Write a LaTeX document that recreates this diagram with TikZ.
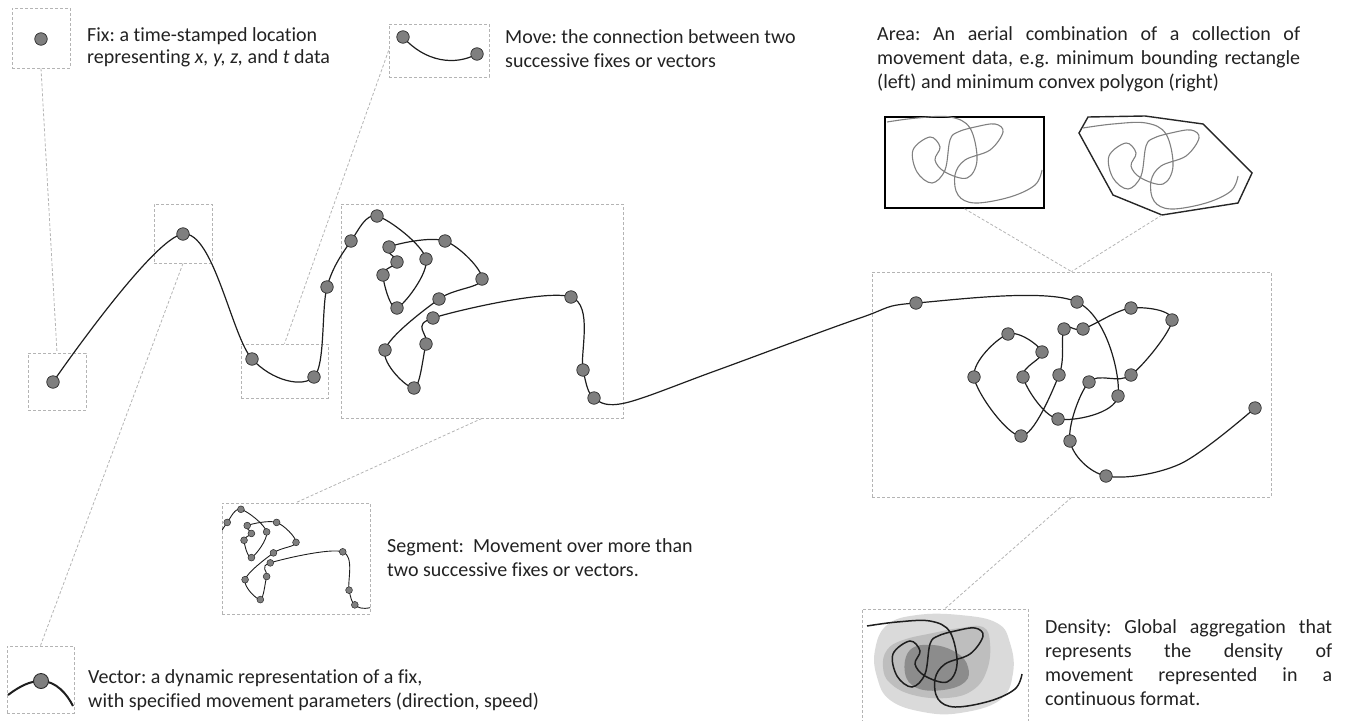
\documentclass[tikz,border=0pt]{standalone}
\usepackage{fontspec}
\setmainfont{Carlito}[Ligatures={NoCommon}]
\frenchspacing
\definecolor{boxgray}{HTML}{B4B4B4}
\definecolor{dotfill}{HTML}{7F7F7F}
\definecolor{dotdraw}{HTML}{2B2B2B}
\definecolor{trajcol}{HTML}{1E1E1E}
\definecolor{txtcol}{HTML}{222222}
\definecolor{scribcol}{HTML}{808080}
\definecolor{dlight}{HTML}{DADADA}
\definecolor{dmid}{HTML}{BEBEBE}
\definecolor{ddark}{HTML}{8C8C8C}
\tikzset{
  dbox/.style={draw=boxgray, dash pattern=on 3pt off 2pt, line width=0.8pt, inner sep=0pt, rectangle},
  dlink/.style={draw=boxgray, dash pattern=on 3pt off 2pt, line width=0.8pt},
  fixdot/.style={circle, fill=dotfill, draw=dotdraw, line width=0.7pt, minimum size=12.5pt, inner sep=0pt},
  traj/.style={draw=trajcol, line width=1.2pt},
  txt/.style={font=\fontsize{20}{24}\selectfont, text=txtcol, inner sep=0pt, align=left, anchor=base west},
}
\newcommand\myscribble[2]{%
  \draw[#1, shift={#2}] plot[smooth, tension=0.6] coordinates {(0,0) (30,-4) (63,-5) (83,6) (90,38) (80,56) (58,50) (48,38) (53,25) (43,15) (26,28) (30,50) (45,61) (58,48) (63,18) (71,10) (88,5) (108,2) (116,10) (103,28) (78,38) (68,53) (71,73) (88,81) (123,75) (148,63) (155,48)};}
\begin{document}
\begin{tikzpicture}[x=1pt, y=-1pt]
\useasboundingbox (0,0) rectangle (1351,720);

% ---------- dashed boxes ----------
\node[dbox, minimum width=58pt, minimum height=60pt] (fixinset) at (41,38) {};
\node[dbox, minimum width=58pt, minimum height=57pt] (fixbox) at (57,381.5) {};
\node[dbox, minimum width=58pt, minimum height=59pt] (vecbox) at (183,233.5) {};
\node[dbox, minimum width=67pt, minimum height=67pt] (vecinset) at (40.5,679.5) {};
\node[dbox, minimum width=87pt, minimum height=54pt] (movebox) at (284.5,371) {};
\node[dbox, minimum width=100pt, minimum height=53pt] (moveinset) at (439,50.5) {};
\node[dbox, minimum width=282pt, minimum height=214pt] (segbox) at (482,311) {};
\node[dbox, minimum width=148pt, minimum height=111pt] (seginset) at (296,558.5) {};
\node[dbox, minimum width=399pt, minimum height=225pt] (areabox) at (1071.5,384.5) {};
\node[dbox, minimum width=166pt, minimum height=122pt] (densinset) at (945,670) {};
\node[draw=black, line width=1.5pt, inner sep=0pt, minimum width=159pt, minimum height=91pt] (rectinset) at (964.5,162.5) {};
\draw[black!85, line width=1.4pt] (1088,117) -- (1145,116) -- (1203,124) -- (1252,173) -- (1238,203) -- (1162,215) coordinate (polybot) -- (1113,195) -- (1079,133) -- cycle;

% ---------- dashed links ----------
\draw[dlink] (fixinset.south) -- (fixbox.north);
\draw[dlink] (vecbox.south) -- (vecinset.north);
\draw[dlink] (moveinset.west) -- (movebox.north);
\draw[dlink] (segbox.south) -- (seginset.north);
\draw[dlink] (rectinset.south) -- (areabox.north);
\draw[dlink] (polybot) -- (areabox.north);
\draw[dlink] (areabox.south) -- (densinset.north);

% ---------- main trajectory ----------
\coordinate (t1) at (53,382);
\coordinate (t2) at (183,234);
\coordinate (t3) at (252,359);
\coordinate (t4) at (314,377);
\coordinate (t5) at (327,287);
\coordinate (t6) at (351,241);
\coordinate (t7) at (377,216);
\coordinate (t8) at (426,259);
\coordinate (t9) at (397,308);
\coordinate (t10) at (383,275);
\coordinate (t11) at (397,262);
\coordinate (t12) at (389,247);
\coordinate (t13) at (445,241);
\coordinate (t14) at (482,279);
\coordinate (t15) at (439,299);
\coordinate (t16) at (385,350);
\coordinate (t17) at (414,388);
\coordinate (t18) at (426,344);
\coordinate (t19) at (433,318);
\coordinate (t20) at (571,297);
\coordinate (t21) at (583,370);
\coordinate (t22) at (594,398);
\coordinate (h1) at (625,403);
\coordinate (h2) at (715,371);
\coordinate (h3) at (860,318);
\coordinate (t23) at (916,303);
\coordinate (t24) at (1077,302);
\coordinate (t25) at (1118,396);
\coordinate (t26) at (1058,419);
\coordinate (t27) at (1023,377);
\coordinate (t28) at (1042,352);
\coordinate (t29) at (1008,334);
\coordinate (t30) at (974,377);
\coordinate (t31) at (1021,436);
\coordinate (t32) at (1059,375);
\coordinate (t33) at (1064,329);
\coordinate (t34) at (1083,329);
\coordinate (t35) at (1131,308);
\coordinate (t36) at (1172,320);
\coordinate (t37) at (1131,375);
\coordinate (t38) at (1089,382);
\coordinate (t39) at (1070,441);
\coordinate (t40) at (1106,476);
\coordinate (h4) at (1180,464);
\coordinate (t41) at (1255,408);
\draw[traj] plot[smooth, tension=0.55] coordinates {(t1) (t2) (t3) (t4) (t5) (t6) (t7) (t8) (t9) (t10) (t11) (t12) (t13) (t14) (t15) (t16) (t17) (t18) (t19) (t20) (t21) (t22) (h1) (h2) (h3) (t23) (t24) (t25) (t26) (t27) (t28) (t29) (t30) (t31) (t32) (t33) (t34) (t35) (t36) (t37) (t38) (t39) (t40) (h4) (t41)};
\foreach \i in {1,...,41} \node[fixdot] (n\i) at (t\i) {};

% ---------- fix inset ----------
\node[fixdot] (fixdotA) at (41,39) {};

% ---------- move inset ----------
\coordinate (m1) at (403,37);
\coordinate (m2) at (477,54);
\draw[traj] (m1) .. controls (425,62) and (455,66) .. (m2);
\node[fixdot] (mdot1) at (m1) {};
\node[fixdot] (mdot2) at (m2) {};

% ---------- vector inset ----------
\coordinate (v1) at (8,695);
\coordinate (vc) at (41,681);
\coordinate (v2) at (73,706);
\draw[trajcol, line width=2pt] (v1) .. controls (20,686) and (30,681) .. (vc) .. controls (56,681) and (67,694) .. (v2);
\node[fixdot, minimum size=15pt, line width=0.9pt] (vdot) at (vc) {};

% ---------- segment inset ----------
\begin{scope}[shift={(222,503)}, scale=0.525, shift={(-341,-204)}]
  \clip (341,204) rectangle (623,418);
  \draw[trajcol, line width=0.9pt] plot[smooth, tension=0.55] coordinates {(183,234) (252,359) (314,377) (327,287) (351,241) (377,216) (426,259) (397,308) (383,275) (397,262) (389,247) (445,241) (482,279) (439,299) (385,350) (414,388) (426,344) (433,318) (571,297) (583,370) (594,398) (625,403) (715,371) (860,318)};
  \foreach \x/\y in {351/241, 377/216, 426/259, 397/308, 383/275, 397/262, 389/247, 445/241, 482/279, 439/299, 385/350, 414/388, 426/344, 433/318, 571/297, 583/370, 594/398}
    \filldraw[fill=dotfill, draw=dotdraw, line width=0.5pt] (\x,\y) circle[radius=6.5];
\end{scope}

% ---------- area insets ----------
\myscribble{scribcol, line width=1.1pt}{(887,122)}
\myscribble{scribcol, line width=1.1pt}{(1083,128)}

% ---------- density inset ----------
\fill[dlight] plot[smooth cycle, tension=0.7] coordinates {(887,625) (917,615) (960,615) (997,623) (1010,643) (1013,673) (1000,700) (960,713) (923,712) (890,700) (877,677) (875,650)};
\fill[dmid] plot[smooth cycle, tension=0.7] coordinates {(887,650) (903,640) (933,633) (960,628) (983,627) (990,643) (987,670) (973,690) (947,698) (913,695) (890,683) (883,667)};
\fill[ddark] plot[smooth cycle, tension=0.7] coordinates {(910,650) (933,645) (957,653) (968,667) (965,682) (943,690) (917,688) (905,673)};
\myscribble{trajcol, line width=1.5pt}{(867,626)}

% ---------- texts (anchor = baseline of the last line) ----------
\node[txt, font=\fontsize{20}{22}\selectfont] (fixtxt) at (87,63) {Fix: a time-stamped location\\representing \textit{x, y, z,} and \textit{t} data};
\node[txt] (movetxt) at (505,67) {Move: the connection between two\\successive fixes or vectors};
\node[txt] (areatxt) at (877,88) {\makebox[423pt][s]{Area: An aerial combination of a collection of}\\\makebox[423pt][s]{movement data, e.g. minimum bounding rectangle}\\(left) and minimum convex polygon (right)};
\node[txt] (segtxt) at (387,576) {Segment:\ \ Movement over more than\\two successive fixes or vectors.};
\node[txt] (vectxt) at (88,707) {Vector: a dynamic representation of a fix,\\with specified movement parameters (direction, speed)};
\node[txt] (denstxt) at (1045,705) {\makebox[287pt][s]{Density: Global aggregation that}\\\makebox[287pt][s]{represents the density of}\\\makebox[287pt][s]{movement represented in a}\\continuous format.};
\end{tikzpicture}
\end{document}
